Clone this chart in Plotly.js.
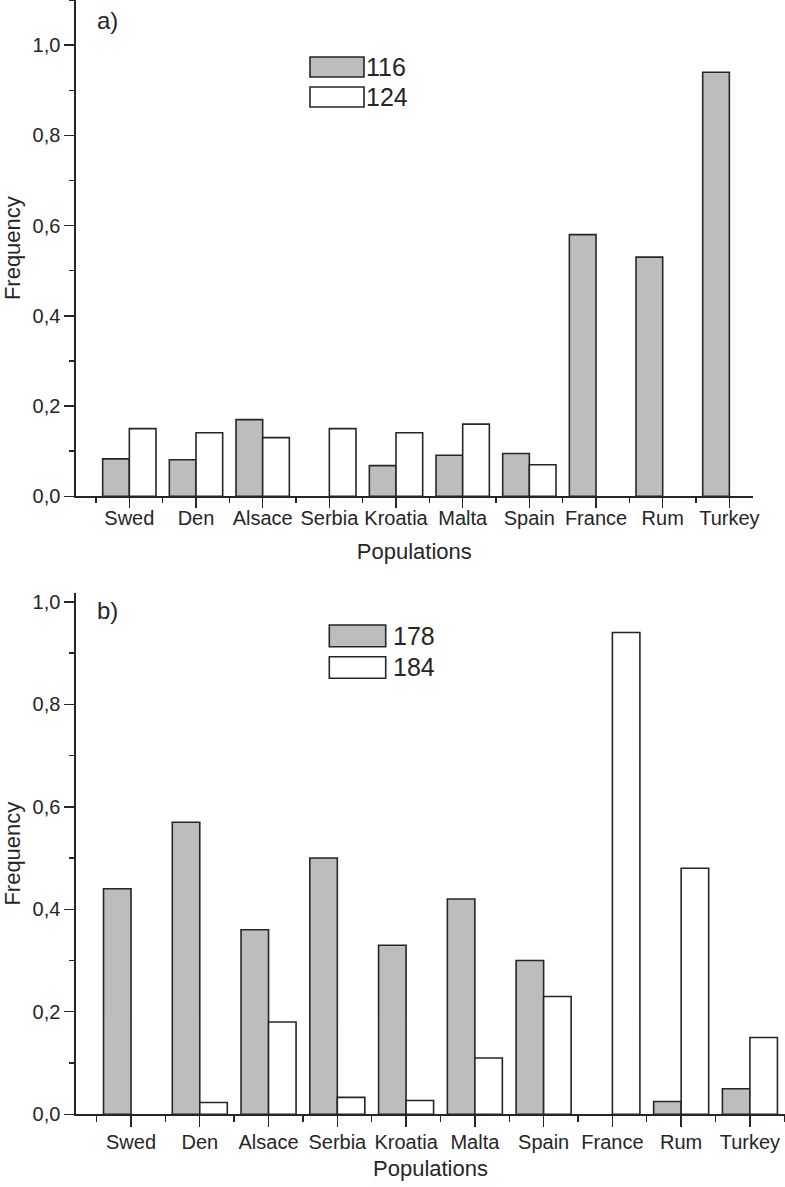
<!DOCTYPE html>
<html>
<head>
<meta charset="utf-8">
<script src="https://cdn.plot.ly/plotly-3.0.1.min.js"></script>
<style>
  html, body { margin: 0; padding: 0; background: #fff; }
  #chart { width: 785px; height: 1187px; }
</style>
</head>
<body>
<div id="chart"></div>
<script>
// ---- data ----
const categories = ["Swed", "Den", "Alsace", "Serbia", "Kroatia", "Malta", "Spain", "France", "Rum", "Turkey"];

const seriesA1Name = "116";
const seriesA1 = [0.083, 0.081, 0.17, null, 0.068, 0.091, 0.095, 0.58, 0.53, 0.94];
const seriesA2Name = "124";
const seriesA2 = [0.15, 0.141, 0.13, 0.15, 0.141, 0.16, 0.07, null, null, null];

const seriesB1Name = "178";
const seriesB1 = [0.44, 0.57, 0.36, 0.50, 0.33, 0.42, 0.30, null, 0.025, 0.05];
const seriesB2Name = "184";
const seriesB2 = [null, 0.023, 0.18, 0.033, 0.027, 0.11, 0.23, 0.94, 0.48, 0.15];

const panelLabels = ["a)", "b)"];
const xTitle = "Populations";
const yTitle = "Frequency";

// category positions on the x axis (index of each category)
const catPos = categories.map((c, i) => i);

// ---- styling ----
const W = 785, H = 1187;
const FONT = "'Liberation Sans', Arial, Helvetica, sans-serif";
const INK = "#262626";
const GRAY = "#bdbdbd";
const px = v => v / W;
const py = v => 1 - v / H;

function bar(y, color, xa, ya, name) {
  return {
    type: "bar", x: catPos, y: y, xaxis: xa, yaxis: ya, name: name,
    customdata: categories, hovertemplate: "%{customdata}: %{y}<extra>" + name + "</extra>",
    marker: { color: color, line: { color: INK, width: 1.6 } },
    showlegend: false
  };
}

const data = [
  bar(seriesA1, GRAY, "x", "y", seriesA1Name),
  bar(seriesA2, "#ffffff", "x", "y", seriesA2Name),
  bar(seriesB1, GRAY, "x2", "y2", seriesB1Name),
  bar(seriesB2, "#ffffff", "x2", "y2", seriesB2Name)
];

function xaxis(domain, range, anchor, majLen, minLen, standoffLbl, titleStandoff) {
  return {
    domain: domain, anchor: anchor, type: "linear", range: range,
    tickmode: "array", tickvals: catPos, ticktext: categories,
    showline: true, linecolor: INK, linewidth: 1.6,
    showgrid: false, zeroline: false,
    ticks: "outside", ticklen: majLen, tickwidth: 1.4, tickcolor: INK,
    ticklabelstandoff: standoffLbl,
    minor: { ticks: "outside", ticklen: minLen, tickwidth: 1.4, tickcolor: INK,
             tickmode: "linear", dtick: 1, tick0: 0.5, showgrid: false },
    tickfont: { family: FONT, size: 20, color: INK },
    title: { text: xTitle, font: { family: FONT, size: 22, color: INK }, standoff: titleStandoff },
    automargin: false, fixedrange: true
  };
}
function yaxis(domain, range, anchor) {
  return {
    domain: domain, anchor: anchor, range: range,
    showline: true, linecolor: INK, linewidth: 1.6,
    showgrid: false, zeroline: false,
    tickmode: "linear", tick0: 0, dtick: 0.2, tickformat: ".1f",
    ticks: "outside", ticklen: 10, tickwidth: 1.4, tickcolor: INK,
    minor: { ticks: "outside", ticklen: 5, tickwidth: 1.4, tickcolor: INK, dtick: 0.1, tick0: 0, showgrid: false },
    tickfont: { family: FONT, size: 20, color: INK },
    title: { text: yTitle, font: { family: FONT, size: 22, color: INK }, standoff: 8 },
    automargin: false, fixedrange: true
  };
}

function legendBox(x0, x1, y0, y1, fill) {
  return { type: "rect", xref: "paper", yref: "paper",
    x0: px(x0), x1: px(x1), y0: py(y1), y1: py(y0),
    fillcolor: fill, line: { color: INK, width: 1.6 } };
}
function txt(text, x, y, size) {
  return { text: text, xref: "paper", yref: "paper", x: px(x), y: py(y),
    xanchor: "left", yanchor: "middle", showarrow: false,
    font: { family: FONT, size: size, color: INK } };
}

const layout = {
  width: W, height: H,
  margin: { l: 0, r: 0, t: 0, b: 0 },
  paper_bgcolor: "#fff", plot_bgcolor: "rgba(0,0,0,0)",
  separators: ",.",
  barmode: "group", bargap: 0.2, bargroupgap: 0,
  showlegend: false,
  font: { family: FONT, color: INK },
  xaxis: xaxis([px(76), px(752.7)], [-0.8, 9.35], "y", 10, 5, -7, 15),
  yaxis: yaxis([py(496.3), 1], [0, 1.1], "x"),
  xaxis2: xaxis([px(76), 1], [-0.8, 9.51], "y2", 11, 6, -2, 8),
  yaxis2: yaxis([py(1114.3), py(593)], [0, 1.0172], "x2"),
  shapes: [
    legendBox(310, 364, 57, 77, GRAY),
    legendBox(310, 364, 87, 107, "#ffffff"),
    legendBox(329.3, 385.7, 625, 646.7, GRAY),
    legendBox(329.3, 385.7, 656.7, 678.3, "#ffffff")
  ],
  annotations: [
    txt(seriesA1Name, 364, 67, 25),
    txt(seriesA2Name, 364, 97, 25),
    txt(seriesB1Name, 391, 636, 25),
    txt(seriesB2Name, 391, 667, 25),
    txt(panelLabels[0], 95, 20, 24),
    txt(panelLabels[1], 95, 611, 24)
  ]
};

Plotly.newPlot("chart", data, layout, { staticPlot: true, displayModeBar: false });
</script>
</body>
</html>
